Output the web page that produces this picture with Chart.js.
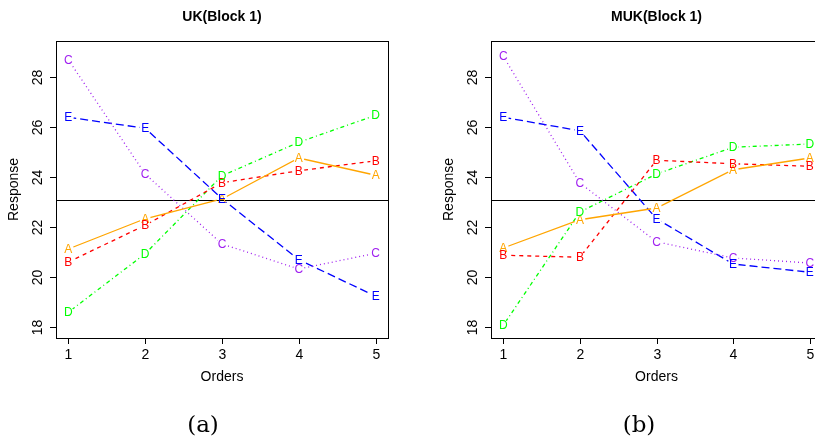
<!DOCTYPE html>
<html>
<head>
<meta charset="utf-8">
<script src="https://cdn.jsdelivr.net/npm/chart.js@4/dist/chart.umd.min.js"></script>
<style>
  html, body { margin: 0; padding: 0; background: #fff; }
  body { width: 815px; height: 442px; overflow: hidden; position: relative; }
  #ukWrap { position: absolute; left: 0; top: 0; width: 400px; height: 442px; }
  #mukWrap { position: absolute; left: 400px; top: 0; width: 430px; height: 442px; }
  .cap { position: absolute; top: 411px; font-family: "DejaVu Serif", "Liberation Serif", serif; font-size: 23px; color: #000; transform: translateX(-50%); }
</style>
</head>
<body>
<div id="ukWrap"><canvas id="ukChart" width="400" height="442"></canvas></div>
<div id="mukWrap"><canvas id="mukChart" width="430" height="442"></canvas></div>
<div class="cap" style="left:203px">(a)</div>
<div class="cap" style="left:639px">(b)</div>
<script>
// data
const orders = [1, 2, 3, 4, 5];
const letters = ['A', 'B', 'C', 'D', 'E'];
const yTicks = [18, 20, 22, 24, 26, 28];

const ukA = [21.12, 22.33, 23.12, 24.76, 24.07];
const ukB = [20.60, 22.07, 23.77, 24.25, 24.65];
const ukC = [28.69, 24.12, 21.32, 20.32, 20.95];
const ukD = [18.59, 20.93, 24.05, 25.39, 26.47];
const ukE = [26.39, 25.95, 23.13, 20.69, 19.23];
const ukMean = 23.09;

const mukA = [21.16, 22.29, 22.76, 24.29, 24.76];
const mukB = [20.87, 20.79, 24.67, 24.53, 24.43];
const mukC = [28.83, 23.76, 21.41, 20.76, 20.56];
const mukD = [18.07, 22.60, 24.12, 25.19, 25.32];
const mukE = [26.39, 25.85, 22.33, 20.52, 20.19];
const mukMean = 23.07;

// line styles like R's lty 1..5
const lineColors = ['#FFA500', '#FF0000', '#A020F0', '#00FF00', '#0000FF'];
const lineDash = [[], [4, 4], [1, 3], [1, 3, 4, 3], [8, 4]];
const font = '"Liberation Sans", Arial, Helvetica, sans-serif';

function buildDatasets(series) {
    return series.map((vals, i) => ({
        label: letters[i],
        data: orders.map((x, j) => ({ x: x, y: vals[j] })),
        borderColor: lineColors[i],
        borderWidth: 1.3,
        borderDash: lineDash[i],
        pointRadius: 0,
        pointHoverRadius: 0,
        tension: 0,
        fill: false
    }));
}

// draws box, axes, text and letter markers the R way
const rPlot = {
    id: 'rPlot',
    beforeDatasetsDraw(chart, args, opts) {
        const ctx = chart.ctx;
        const area = chart.chartArea;
        const y = chart.scales.y.getPixelForValue(opts.mean);
        ctx.save();
        ctx.strokeStyle = '#000';
        ctx.lineWidth = 1;
        ctx.beginPath();
        ctx.moveTo(area.left, Math.round(y) + 0.5);
        ctx.lineTo(area.right, Math.round(y) + 0.5);
        ctx.stroke();
        ctx.restore();
    },
    // leave a small gap round each letter, like type = "b"
    beforeDatasetDraw(chart, args) {
        const ctx = chart.ctx;
        ctx.save();
        ctx.beginPath();
        ctx.rect(0, 0, chart.width, chart.height);
        args.meta.data.forEach(pt => {
            ctx.moveTo(pt.x + 5.5, pt.y);
            ctx.arc(pt.x, pt.y, 5.5, 0, Math.PI * 2);
        });
        ctx.clip('evenodd');
    },
    afterDatasetDraw(chart) {
        chart.ctx.restore();
    },
    afterDatasetsDraw(chart, args, opts) {
        const ctx = chart.ctx;
        const area = chart.chartArea;
        const xs = chart.scales.x;
        const ys = chart.scales.y;
        ctx.save();

        // letter markers
        ctx.font = '12px ' + font;
        ctx.textAlign = 'center';
        ctx.textBaseline = 'middle';
        chart.data.datasets.forEach((ds, i) => {
            const meta = chart.getDatasetMeta(i);
            ctx.fillStyle = lineColors[i];
            meta.data.forEach(pt => ctx.fillText(ds.label, pt.x, pt.y + 0.5));
        });

        // box
        ctx.strokeStyle = '#000';
        ctx.lineWidth = 1;
        ctx.strokeRect(Math.round(area.left) + 0.5, Math.round(area.top) + 0.5,
            Math.round(area.right - area.left), Math.round(area.bottom - area.top));

        // y axis
        ctx.fillStyle = '#000';
        ctx.font = '14px ' + font;
        yTicks.forEach(v => {
            const py = Math.round(ys.getPixelForValue(v)) + 0.5;
            ctx.beginPath();
            ctx.moveTo(area.left, py);
            ctx.lineTo(area.left - 6, py);
            ctx.stroke();
            ctx.save();
            ctx.translate(area.left - 18, py);
            ctx.rotate(-Math.PI / 2);
            ctx.textAlign = 'center';
            ctx.textBaseline = 'middle';
            ctx.fillText(String(v), 0, 0);
            ctx.restore();
        });

        // x axis
        orders.forEach(v => {
            const px = Math.round(xs.getPixelForValue(v)) + 0.5;
            ctx.beginPath();
            ctx.moveTo(px, area.bottom);
            ctx.lineTo(px, area.bottom + 6);
            ctx.stroke();
            ctx.textAlign = 'center';
            ctx.textBaseline = 'middle';
            ctx.fillText(String(v), px, 355);
        });

        // axis titles
        ctx.fillText('Orders', (area.left + area.right) / 2, 377);
        ctx.save();
        ctx.translate(area.left - 42, (area.top + area.bottom) / 2);
        ctx.rotate(-Math.PI / 2);
        ctx.fillText('Response', 0, 0);
        ctx.restore();

        // main title
        ctx.font = 'bold 14px ' + font;
        ctx.fillText(opts.title, (area.left + area.right) / 2, 17);
        ctx.restore();
    }
};

function makeChart(id, series, title, mean, padLeft, padRight) {
    return new Chart(document.getElementById(id).getContext('2d'), {
        type: 'line',
        data: { datasets: buildDatasets(series) },
        options: {
            responsive: false,
            animation: false,
            layout: { padding: { left: padLeft, right: padRight, top: 41, bottom: 104 } },
            scales: {
                x: { type: 'linear', min: 0.84, max: 5.16, display: false },
                y: { type: 'linear', min: 17.56, max: 29.44, display: false }
            },
            plugins: {
                legend: { display: false },
                tooltip: { enabled: false },
                rPlot: { title: title, mean: mean }
            }
        },
        plugins: [rPlot]
    });
}

makeChart('ukChart', [ukA, ukB, ukC, ukD, ukE], 'UK(Block 1)', ukMean, 56, 12);
makeChart('mukChart', [mukA, mukB, mukC, mukD, mukE], 'MUK(Block 1)', mukMean, 91, 8);
</script>
</body>
</html>
